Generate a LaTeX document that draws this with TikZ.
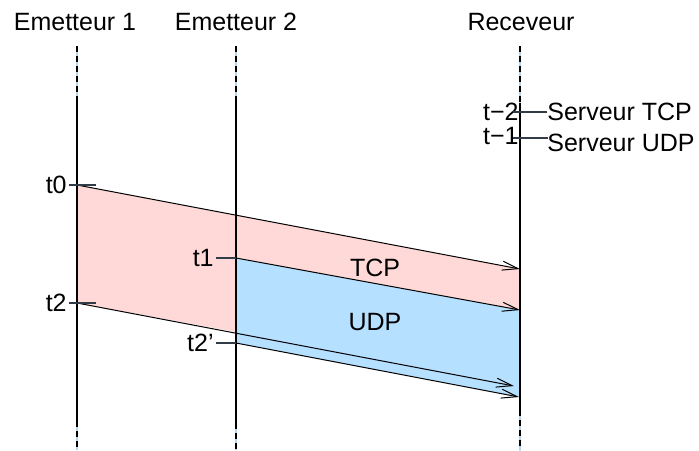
\documentclass[tikz,border=0pt]{standalone}
\usepackage{fontspec}
\setmainfont{Liberation Sans}
\usetikzlibrary{arrows.meta, calc, positioning}
\definecolor{tcpfill}{RGB}{255,216,216}
\definecolor{udpfill}{RGB}{182,224,255}
\definecolor{gapblue}{RGB}{180,214,236}
\definecolor{tickgray}{RGB}{50,60,70}

\begin{document}
\begin{tikzpicture}[x=0.5pt, y=-0.5pt, font=\fontsize{12.5}{15}\selectfont,
    msg/.style={line width=0.5pt, -{Straight Barb[length=8pt,width=4.5pt]}},
    tick/.style={tickgray, line width=0.6pt},
    life/.style={line width=1.2pt}]
    \useasboundingbox (0,0) rectangle (699,450);

    % lifelines: top dashed, solid middle, bottom dashed
    \foreach \name/\x/\s/\e in {E1/77/100/421, E2/236/100/423, R/520/103/410} {
        \coordinate (\name top) at (\x,46);
        \coordinate (\name s) at (\x,\s);
        \coordinate (\name e) at (\x,\e);
        \coordinate (\name bot) at (\x,450);
        \draw[life,gapblue] (\name top) -- (\name s);
        \draw[life,dash pattern=on 3.2pt off 1.8pt] (\name top) -- (\name s);
        \draw[life,gapblue] (\name e) -- (\name bot);
        \draw[life,dash pattern=on 3.2pt off 1.8pt] (\name e) -- (\name bot);
    }

    \coordinate (t0) at (77,185);
    \coordinate (t2) at (77,303);
    \coordinate (t1) at (236,258);
    \coordinate (t2p) at (236,343);
    \coordinate (c2) at (236,332);
    \coordinate (r0) at (520,269);
    \coordinate (r1) at (520,310);
    \coordinate (r2) at (514,386);
    \coordinate (r3) at (519,397);

    \fill[tcpfill] (t0) -- (r0) -- (r1) -- (t1) -- (c2) -- (t2) -- cycle;
    \fill[udpfill] (t1) -- (r1) -- (520,397) -- (t2p) -- cycle;

    \foreach \name in {E1, E2, R}
        \draw[life] (\name s) -- (\name e);

    \draw[msg] (t0) -- (r0);
    \draw[msg] (t1) -- (r1);
    \draw[msg] (t2) -- (r2);
    \draw[msg] (t2p) -- (r3);

    \node (hE1) at (75,22) {Emetteur 1};
    \node (hE2) at (236,22) {Emetteur 2};
    \node (hR) at (521,22) {Receveur};

    \node[anchor=east, inner sep=1pt] (lt0) at (69,185) {t0};
    \node[anchor=east, inner sep=1pt] (lt2) at (69,303) {t2};
    \node[anchor=east, inner sep=1pt] (lt1) at (216,258) {t1};
    \node[anchor=east, inner sep=1pt] (lt2p) at (216,343) {t2’};
    \draw[tick] (lt0.east) -- ++(27,0);
    \draw[tick] (lt2.east) -- ++(27,0);
    \draw[tick] (lt1.east) -- (t1);
    \draw[tick] (lt2p.east) -- (t2p);

    \node[anchor=east, inner sep=0pt] (ltm2) at (519,112) {t−2};
    \node[anchor=east, inner sep=0pt] (ltm1) at (519,136) {t−1};
    \node[anchor=west, inner sep=0pt] (sTCP) at (547,112) {Serveur TCP};
    \node[anchor=west, inner sep=0pt] (sUDP) at (547,143) {Serveur UDP};
    \draw[tick] (ltm2.east) ++(-6,0) -- (sTCP.west |- ltm2.east);
    \draw[tick] (ltm1.east) ++(-6,2) -- ++(35,0);

    \node (lTCP) at (375,268) {TCP};
    \node (lUDP) at (375,322) {UDP};
\end{tikzpicture}
\end{document}
